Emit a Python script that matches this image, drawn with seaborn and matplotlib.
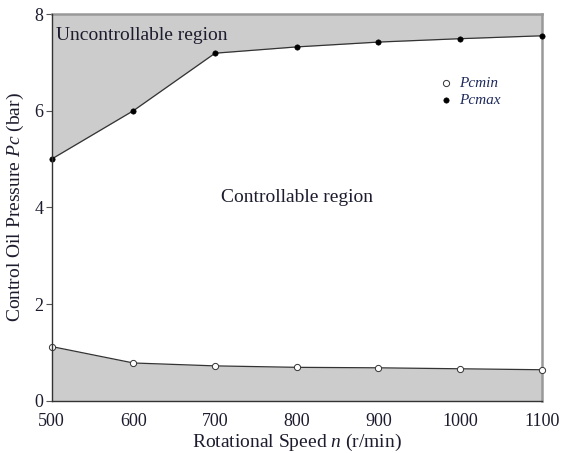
import matplotlib
matplotlib.use("Agg")
import matplotlib.pyplot as plt
import seaborn as sns
import pandas as pd

# Rotational speed (r/min) and the control oil pressure limits (bar)
speed = [500, 600, 700, 800, 900, 1000, 1100]
pc_min = [1.12, 0.78, 0.72, 0.69, 0.68, 0.66, 0.64]
pc_max = [5.0, 6.0, 7.19, 7.32, 7.42, 7.49, 7.55]

df = pd.DataFrame({"speed": speed, "pc_min": pc_min, "pc_max": pc_max})

sns.set_theme(style="white")
plt.rcParams["font.family"] = ["Liberation Serif", "DejaVu Serif"]
plt.rcParams["mathtext.fontset"] = "custom"
plt.rcParams["mathtext.it"] = "Liberation Serif:italic"
plt.rcParams["mathtext.rm"] = "Liberation Serif"

text_col = "#1c1c2e"
fill_col = "#cccccc"

fig = plt.figure(figsize=(5.68, 4.53), dpi=100)
ax = fig.add_axes([0.091, 0.1155, 0.863, 0.8535])

# shaded regions outside the controllable band
ax.fill_between(df["speed"], df["pc_max"], 8, color=fill_col, linewidth=0, zorder=1)
ax.fill_between(df["speed"], 0, df["pc_min"], color=fill_col, linewidth=0, zorder=1)

sns.lineplot(data=df, x="speed", y="pc_max", ax=ax, color="#333333", linewidth=0.9, zorder=2)
sns.lineplot(data=df, x="speed", y="pc_min", ax=ax, color="#333333", linewidth=0.9, zorder=2)

sns.scatterplot(data=df, x="speed", y="pc_min", ax=ax, marker="o", s=20,
                facecolor="white", edgecolor="#333333", linewidth=0.7,
                label="Pcmin", zorder=3, clip_on=False)
sns.scatterplot(data=df, x="speed", y="pc_max", ax=ax, marker="o", s=15,
                color="black", edgecolor="black", linewidth=0.4,
                label="Pcmax", zorder=3, clip_on=False)

ax.set_xlim(500, 1100)
ax.set_ylim(0, 8)
ax.set_xticks([500, 600, 700, 800, 900, 1000, 1100])
ax.set_yticks([0, 2, 4, 6, 8])

for side in ("left", "bottom"):
    ax.spines[side].set_color("#333333")
    ax.spines[side].set_linewidth(1.0)
for side in ("top", "right"):
    ax.spines[side].set_color("#999999")
    ax.spines[side].set_linewidth(1.8)
ax.spines["left"].set_zorder(4)
ax.spines["bottom"].set_zorder(4)

ax.tick_params(axis="y", direction="out", length=4, width=0.8, color="#555555",
               labelsize=13, labelcolor=text_col, pad=2, left=True)
ax.tick_params(axis="x", length=0, labelsize=13, labelcolor=text_col, pad=9)

ax.set_xlabel("Rotational Speed $n$ (r/min)", fontsize=14, color=text_col, labelpad=1)
ax.set_ylabel("Control Oil Pressure $Pc$ (bar)", fontsize=14, color=text_col, labelpad=6)

ax.text(505, 7.55, "Uncontrollable region", fontsize=14, color=text_col,
        va="center", ha="left", zorder=5)
ax.text(800, 4.2, "Controllable region", fontsize=14, color=text_col,
        va="center", ha="center", zorder=5)

leg = ax.legend(loc="upper left", bbox_to_anchor=(0.76, 0.875), frameon=False,
                handletextpad=0.4, labelspacing=0.2, handlelength=1.0,
                prop={"family": "Liberation Serif", "style": "italic", "size": 11})
for t in leg.get_texts():
    t.set_color("#1e2a5c")

fig.savefig("out.png", dpi=100)
